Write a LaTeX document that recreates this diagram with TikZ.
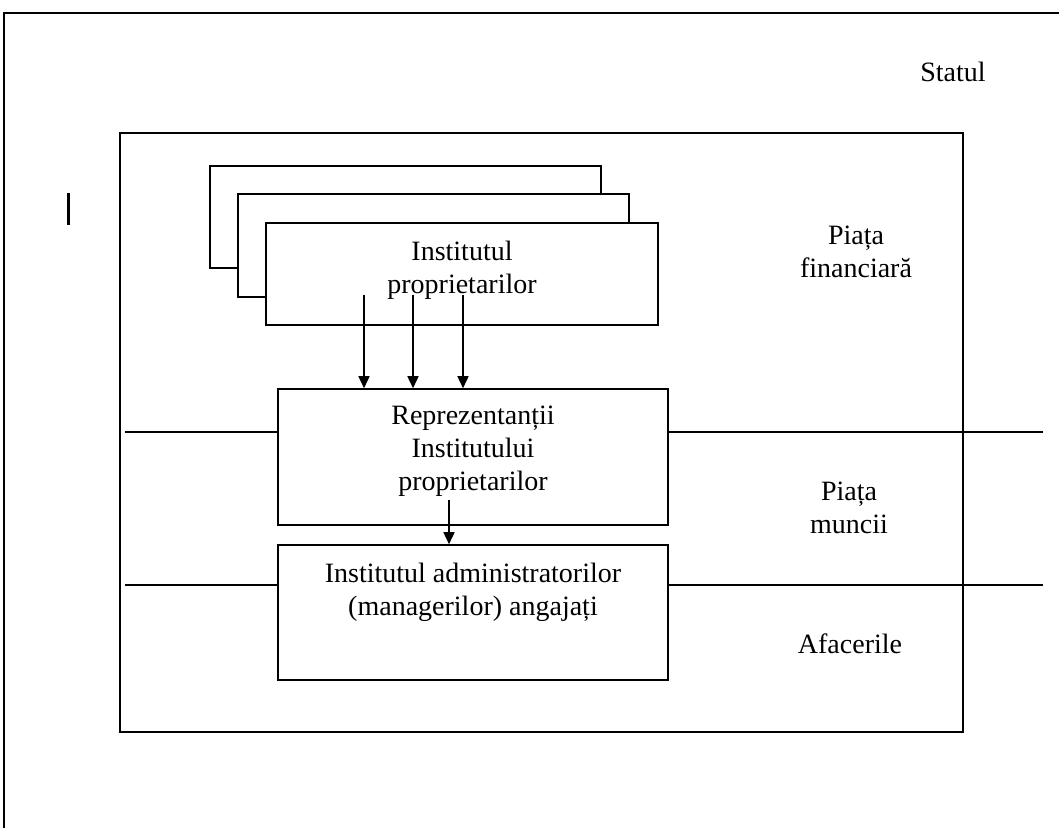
\documentclass[tikz,border=0pt]{standalone}
\usepackage{fontspec}
\setmainfont{Liberation Serif}
\usetikzlibrary{positioning,arrows.meta}
\tikzset{
  frame/.style={line width=1.6pt},
  bx/.style={draw,line width=1.6pt,fill=white,inner sep=0pt},
  lbl/.style={font=\fontsize{28}{33}\selectfont,align=center,inner sep=0pt},
  arr/.style={line width=1.6pt,-{Triangle[length=12pt,width=11pt]}},
  every picture/.style={x=1pt,y=-1pt}
}
\begin{document}
\begin{tikzpicture}
  \useasboundingbox (0,0) rectangle (1059,828);
  % outer frame (open to the right and below)
  \draw[frame] (1059,13) -- (4,13) -- (4,828);
  \draw[line width=3pt] (68,193) -- (68,225);
  \node[lbl] (statul) at (953,72) {Statul};
  % inner frame
  \draw[frame] (120,133) rectangle (963,732);
  \node[lbl] (fin) at (856,252) {Piața\\financiară};
  \node[lbl] (munca) at (849,508) {Piața\\muncii};
  \node[lbl] (afaceri) at (850,644) {Afacerile};
  % stack of owners
  \node[bx,minimum width=391pt,minimum height=102pt] (back) at (405.5,217) {};
  \node[bx,minimum width=391pt,minimum height=103pt] (mid) at (433.5,245.5) {};
  \node[bx,minimum width=392pt,minimum height=102pt] (prop) at (462,274) {};
  \node[lbl] (proptxt) at (462,270) {Institutul\\proprietarilor};
  % representatives and managers
  \node[bx,minimum width=390pt,minimum height=136pt] (rep) at (473,457) {};
  \node[lbl] (reptxt) at (473,451) {Reprezentanții\\Institutului\\proprietarilor};
  \node[bx,minimum width=390pt,minimum height=135pt] (admin) at (473,612.5) {};
  \node[lbl] (admintxt) at (473,592) {Institutul administratorilor\\(managerilor) angajați};
  % market lines
  \coordinate (l1) at (125,432);
  \coordinate (r1) at (1043,432);
  \coordinate (l2) at (125,585);
  \coordinate (r2) at (1043,585);
  \draw[frame] (l1) -- (rep.west |- l1);
  \draw[frame] (rep.east |- r1) -- (r1);
  \draw[frame] (l2) -- (admin.west |- l2);
  \draw[frame] (admin.east |- r2) -- (r2);
  % arrows
  \foreach \x/\n in {364/a,413/b,463/c}{
    \coordinate (s\n) at (\x,295);
    \draw[arr] (s\n) -- (s\n |- rep.north);
  }
  \coordinate (sd) at (449,500);
  \draw[arr] (sd) -- (sd |- admin.north);
\end{tikzpicture}
\end{document}
